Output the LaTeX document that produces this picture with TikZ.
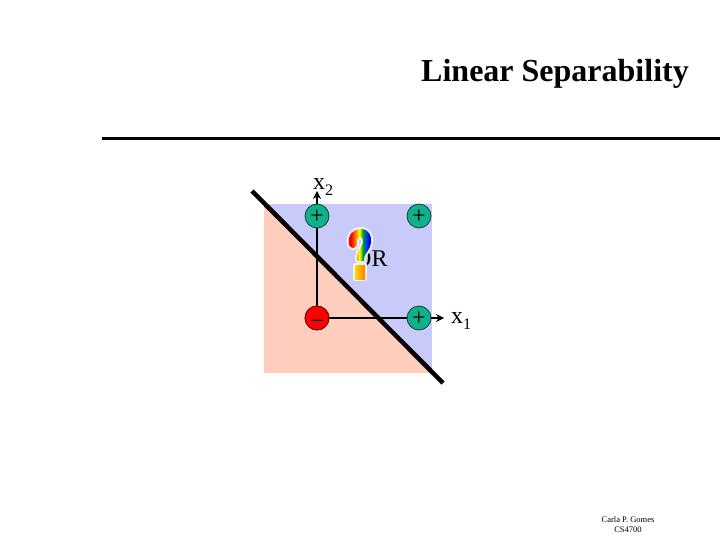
\documentclass[tikz,border=0pt]{standalone}
\usepackage{fontspec}
\setmainfont{Liberation Serif}
\usetikzlibrary{arrows.meta}
\pgfdeclarehorizontalshading{rainbowq}{100bp}{
  color(0bp)=(red!85!black); color(33bp)=(red); color(42bp)=(orange); color(50bp)=(yellow);
  color(56bp)=(green!70!black); color(63bp)=(blue!80!cyan); color(72bp)=(blue!70!black); color(100bp)=(blue!70!black)}
\definecolor{bluereg}{HTML}{C8CBFA}
\definecolor{pinkreg}{HTML}{FFCDBD}
\definecolor{plusc}{HTML}{10B088}
\newcommand{\subd}[1]{\raisebox{-6pt}{\fontsize{16}{16}\selectfont #1}}
\tikzset{
  px/.style={x=1pt,y=-1pt},
  pt/.style={circle,draw=black!70!plusc,line width=0.7pt,minimum size=24pt,inner sep=0pt,font=\fontsize{24}{24}\selectfont},
  posn/.style={pt,fill=plusc},
  negn/.style={pt,fill=red,draw=black!60!red},
  axisl/.style={line width=1.5pt,-{Stealth[length=8pt,width=8pt]}},
  sep/.style={line width=4.5pt},
  lab/.style={inner sep=0pt,font=\fontsize{24}{24}\selectfont},
  qout/.style={fill=black!5,draw=black!5,line width=4pt,line join=round}
}
\begin{document}
\begin{tikzpicture}[px]
\useasboundingbox (0,0) rectangle (720,540);
\fill[bluereg] (264,204) rectangle (432,373);
\fill[pinkreg] (264,204) -- (264,373) -- (432,373) -- cycle;
\node[inner sep=0pt,font=\fontsize{32}{32}\selectfont\bfseries,anchor=base] (title) at (555,81.5) {Linear Separability};
\coordinate (ruleL) at (102,138.5);
\coordinate (ruleR) at (720,138.5);
\draw[line width=3pt] (ruleL) -- (ruleR);
\coordinate (x2end) at (317,191);
\coordinate (x1end) at (444,318);
\coordinate (sepA) at (252,191);
\coordinate (sepB) at (443,383);
\node[negn] (c) at (317,318) {};
\draw[axisl] (c.center) -- (x2end);
\draw[axisl] (c.center) -- (x1end);
\node[posn] (a) at (317,216) {\smash{\raisebox{-7pt}{+}}};
\node[posn] (b) at (419,216) {\smash{\raisebox{-7pt}{+}}};
\node[negn] (c) at (317,318) {\smash{\raisebox{-8pt}{–}}};
\node[posn] (d) at (419,318) {\smash{\raisebox{-7pt}{+}}};
\draw[sep] (sepA) -- (sepB);
\node[lab,anchor=base west] (x2) at (313,189.5) {x\subd{2}};
\node[lab,anchor=base west] (x1) at (451,323.5) {x\subd{1}};
\node[lab,anchor=base west] (orl) at (354,266) {OR};
% rainbow question mark
\def\qhook{(349,245) .. controls (347,234) and (354,229) .. (361,229) .. controls (369,229) and (372,236) .. (371,243) .. controls (370,250) and (365,253) .. (364,258) -- (364,261) -- (357,261) -- (357,256) .. controls (358,249) and (363,247) .. (363,241) .. controls (363,236) and (358,236) .. (357,240) -- (357,245) .. controls (355,249) and (351,249) .. (349,245) -- cycle}
\def\qdot{(355,265) rectangle (365,279)}
\draw[qout] \qhook;
\draw[qout] \qdot;
\shade[shading=rainbowq] \qhook;
\shade[left color=yellow!70!orange,right color=orange] \qdot;
\node[inner sep=0pt,font=\fontsize{8.5}{8.5}\selectfont,anchor=base] (f1) at (628,522) {Carla P. Gomes};
\node[inner sep=0pt,font=\fontsize{8.5}{8.5}\selectfont,anchor=base] (f2) at (628,532) {CS4700};
\end{tikzpicture}
\end{document}
